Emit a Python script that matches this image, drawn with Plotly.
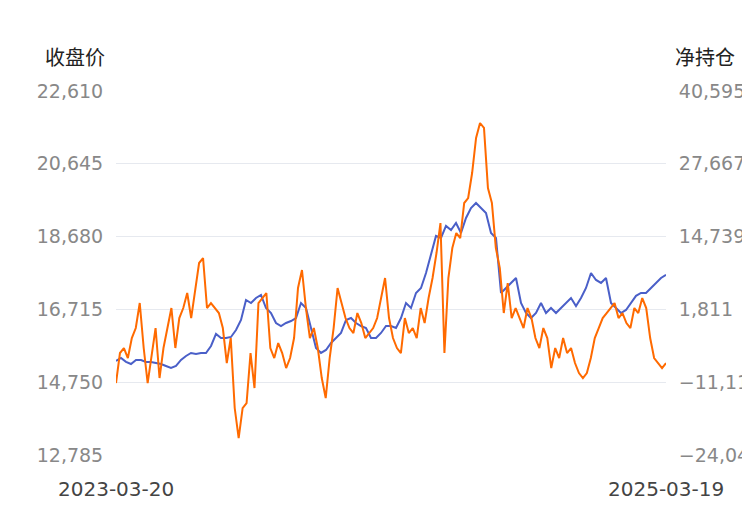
import numpy as np
import pandas as pd
import plotly.graph_objects as go

# 收盘价 (left axis)
close_price = [15323, 15404, 15300, 15242, 15350, 15350, 15296, 15296, 15269, 15242, 15188, 15134, 15188,
               15350, 15458, 15539, 15512, 15539, 15539, 15727, 16052, 15944, 15944, 15971, 16160, 16429,
               16969, 16888, 17023, 17104, 16753, 16618, 16348, 16267, 16348, 16402, 16483, 16888, 16753,
               16213, 15674, 15539, 15620, 15809, 15944, 16079, 16429, 16483, 16348, 16267, 16213, 15944,
               15944, 16079, 16267, 16267, 16213, 16483, 16888, 16753, 17158, 17293, 17698, 18238, 18697,
               18643, 18967, 18859, 19048, 18778, 19182, 19452, 19587, 19452, 19317, 18778, 18643, 17158,
               17293, 17428, 17563, 16888, 16618, 16483, 16618, 16888, 16618, 16753, 16618, 16753, 16888,
               17023, 16807, 17023, 17293, 17698, 17509, 17428, 17563, 16888, 16753, 16618, 16700, 16888,
               17080, 17158, 17158, 17293, 17428, 17563, 17650]

# 净持仓 (right axis)
net_position = [-11264, -5936, -5048, -6824, -3272, -1496, 2944, -5048, -11264, -5936, -1496, -10376, -5048,
                -1496, 2056, -5048, 280, 2056, 4720, 280, 5608, 10048, 10936, 2056, 2944, 2056, 1168, -1496,
                -7712, -3272, -15704, -21032, -15704, -14816, -5936, -12152, 2944, 3832, 4720, -5048, -6824,
                -4160, -5936, -8600, -6824, -3272, 5608, 8805, 2056, -3272, -1496, -5048, -10376, -13928,
                -6824, -1496, 5608, 2944, 280, -1496, -2384, 1168, -608, -3272, -2384, -1496, 280, 3832,
                7384, 280, -3272, -5048, -5936, 280, -2384, -1496, -3272, 2056, -608, 3832, 7384, 11824,
                17152, -5936, 7384, 12712, 15376, 14483, 20704, 21592, 26032, 32248, 34912, 34024, 23368,
                20704, 12712, 9160, 1168, 6496, 280, 2056, 280, -1496, 2056, 280, -3272, -5048, -1496,
                -3272, -8600, -5048, -6824, -3272, -5936, -5048, -7712, -9488, -10376, -9488, -6824, -3272,
                -1496, 280, 1168, 2056, 2944, 280, 1168, -608, -1496, 2056, 1168, 3832, 2056, -3272, -6824,
                -7712, -8600, -7712]

left_ticks = [12785, 14750, 16715, 18680, 20645, 22610]
right_ticks = [-24045, -11117, 1811, 14739, 27667, 40595]
start, end = pd.Timestamp("2023-03-20"), pd.Timestamp("2025-03-19")

span = (end - start).total_seconds()
x_close = [start + pd.Timedelta(seconds=s) for s in np.linspace(0, span, len(close_price))]
x_net = [start + pd.Timedelta(seconds=s) for s in np.linspace(0, span, len(net_position))]

fig = go.Figure()
fig.add_trace(go.Scatter(x=x_close, y=close_price, mode="lines", name="收盘价",
                         line=dict(color="#4a5fc8", width=2)))
fig.add_trace(go.Scatter(x=x_net, y=net_position, mode="lines", name="净持仓", yaxis="y2",
                         line=dict(color="#ff6a00", width=2)))

num_font = "DejaVu Sans"
cjk_font = "Noto Sans CJK SC"
fig.update_layout(
    width=750, height=510, showlegend=False,
    paper_bgcolor="white", plot_bgcolor="white",
    margin=dict(l=108, r=92, t=83, b=63, autoexpand=False),
    font=dict(family=num_font),
    xaxis=dict(range=[start, end], showticklabels=False, showgrid=False, zeroline=False),
    yaxis=dict(range=[12785, 22610], tickvals=left_ticks, tickformat=",d",
               tickfont=dict(size=19, color="#888"), gridcolor="#e6e9ef", zeroline=False, ticklen=8,
               ticks="outside", tickcolor="white"),
    yaxis2=dict(range=[-24045, 40595], tickvals=right_ticks, tickformat=",d", overlaying="y",
                side="right", showgrid=False, zeroline=False, tickfont=dict(size=19, color="#888"),
                ticks="outside", tickcolor="white", ticklen=8),
    annotations=[
        dict(text="收盘价", x=-0.075, xref="paper", xanchor="center", y=1, yref="paper", yanchor="middle",
             yshift=35, showarrow=False, font=dict(size=20, color="#222", family=cjk_font)),
        dict(text="净持仓", x=1.07, xref="paper", xanchor="center", y=1, yref="paper", yanchor="middle",
             yshift=35, showarrow=False, font=dict(size=20, color="#222", family=cjk_font)),
        dict(text="2023-03-20", x=0, xref="paper", xanchor="center", y=0, yref="paper", yanchor="top",
             yshift=-20, showarrow=False, font=dict(size=20, color="#444")),
        dict(text="2025-03-19", x=1, xref="paper", xanchor="center", y=0, yref="paper", yanchor="top",
             yshift=-20, showarrow=False, font=dict(size=20, color="#444")),
    ],
)

fig.write_html("out.html")
